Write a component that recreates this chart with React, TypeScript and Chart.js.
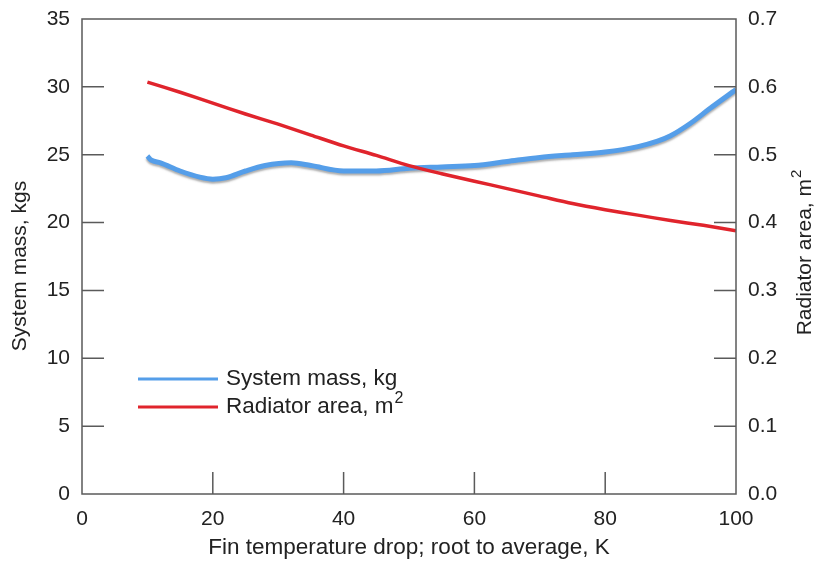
import React, { useEffect, useRef } from "react";
import { Chart, registerables } from "chart.js";

Chart.register(...registerables);

// Fin temperature drop (K) and values
const massX = [10, 10.6, 12, 15, 18, 20, 22, 25, 28, 32, 35, 40, 45, 50, 55, 60, 65, 70, 75, 80, 85, 88, 90, 93, 96, 100];
const massY = [24.9, 24.6, 24.4, 23.8, 23.35, 23.2, 23.3, 23.8, 24.2, 24.4, 24.2, 23.8, 23.8, 24.0, 24.1, 24.2, 24.5, 24.8, 25.0, 25.2, 25.6, 26.0, 26.4, 27.3, 28.4, 29.8];
const areaX = [10, 15, 20, 25, 30, 35, 40, 45, 50, 55, 60, 65, 70, 75, 80, 85, 90, 95, 100];
const areaY = [0.607, 0.592, 0.576, 0.560, 0.545, 0.529, 0.513, 0.499, 0.484, 0.472, 0.461, 0.450, 0.439, 0.428, 0.419, 0.411, 0.403, 0.396, 0.388];

const xTitle = "Fin temperature drop; root to average, K";
const yTitle = "System mass, kgs";
const y1Title = "Radiator area, m";
const seriesLabels = ["System mass, kg", "Radiator area, m"];

const FONT = "Arial, 'Liberation Sans', sans-serif";
const TEXT = "#222222";
const AXIS = "#5a5a5a";
const BLUE = "#559ee9";
const RED = "#e0242c";

export default function App() {
  const ref = useRef<HTMLCanvasElement | null>(null);

  useEffect(() => {
    document.body.style.margin = "0";
    const canvas = ref.current!;

    const framePlugin = {
      id: "frame",
      beforeDatasetDraw(chart: any, args: any) {
        if (args.index === 1) {
          const ctx = chart.ctx;
          ctx.save();
          ctx.shadowColor = "rgba(120,120,120,0.6)";
          ctx.shadowOffsetY = 2;
          ctx.shadowBlur = 2;
        }
      },
      afterDatasetDraw(chart: any, args: any) {
        if (args.index === 1) chart.ctx.restore();
      },
      afterDraw(chart: any) {
        const ctx = chart.ctx;
        const a = chart.chartArea;
        const xs = chart.scales.x;
        const ys = chart.scales.y;
        const y1s = chart.scales.y1;
        ctx.save();
        ctx.strokeStyle = AXIS;
        ctx.lineWidth = 1.5;
        ctx.strokeRect(a.left, a.top, a.right - a.left, a.bottom - a.top);
        const tl = 22;
        ctx.beginPath();
        xs.ticks.forEach((t: any) => {
          if (t.value <= xs.min || t.value >= xs.max) return;
          const p = xs.getPixelForValue(t.value);
          ctx.moveTo(p, a.bottom);
          ctx.lineTo(p, a.bottom - tl);
        });
        ys.ticks.forEach((t: any) => {
          if (t.value <= ys.min || t.value >= ys.max) return;
          const p = ys.getPixelForValue(t.value);
          ctx.moveTo(a.left, p);
          ctx.lineTo(a.left + tl, p);
        });
        y1s.ticks.forEach((t: any) => {
          if (t.value <= y1s.min + 1e-9 || t.value >= y1s.max - 1e-9) return;
          const p = y1s.getPixelForValue(t.value);
          ctx.moveTo(a.right, p);
          ctx.lineTo(a.right - tl, p);
        });
        ctx.stroke();

        // axis titles
        ctx.fillStyle = TEXT;
        ctx.font = `22.5px ${FONT}`;
        ctx.textAlign = "center";
        ctx.textBaseline = "middle";
        ctx.fillText(xTitle, 409, 548);

        ctx.font = `21px ${FONT}`;
        ctx.save();
        ctx.translate(20, 266);
        ctx.rotate(-Math.PI / 2);
        ctx.fillText(yTitle, 0, 0);
        ctx.restore();

        ctx.save();
        ctx.translate(805, 253);
        ctx.rotate(-Math.PI / 2);
        ctx.font = `21px ${FONT}`;
        const w1 = ctx.measureText(y1Title).width;
        ctx.font = `15px ${FONT}`;
        const w2 = ctx.measureText("2").width;
        const total = w1 + w2;
        ctx.textAlign = "left";
        ctx.font = `21px ${FONT}`;
        ctx.fillText(y1Title, -total / 2, 0);
        ctx.font = `15px ${FONT}`;
        ctx.fillText("2", -total / 2 + w1 + 1, -8);
        ctx.restore();

        // legend
        const colors = [BLUE, RED];
        const ly = [379, 407];
        ctx.lineWidth = 3;
        ctx.textAlign = "left";
        for (let i = 0; i < 2; i++) {
          ctx.strokeStyle = colors[i];
          ctx.beginPath();
          ctx.moveTo(138, ly[i]);
          ctx.lineTo(218, ly[i]);
          ctx.stroke();
          ctx.fillStyle = TEXT;
          ctx.font = `22.5px ${FONT}`;
          ctx.fillText(seriesLabels[i], 226, ly[i]);
          if (i === 1) {
            const w = ctx.measureText(seriesLabels[i]).width;
            ctx.font = `16px ${FONT}`;
            ctx.fillText("2", 226 + w + 1, ly[i] - 8);
          }
        }
        ctx.restore();
      },
    };

    const tickFont = { size: 21, family: FONT };
    const noPadV = (s: any, w: number) => {
      s.width = w;
      s.paddingTop = 0;
      s.paddingBottom = 0;
    };

    const chart = new Chart(canvas, {
      type: "line",
      data: {
        datasets: [
          {
            label: seriesLabels[1],
            data: areaX.map((x, i) => ({ x, y: areaY[i] })),
            yAxisID: "y1",
            borderColor: RED,
            borderWidth: 3.5,
            pointRadius: 0,
            tension: 0.3,
            order: 1,
          },
          {
            label: seriesLabels[0],
            data: massX.map((x, i) => ({ x, y: massY[i] })),
            yAxisID: "y",
            borderColor: BLUE,
            borderWidth: 5,
            pointRadius: 0,
            cubicInterpolationMode: "monotone",
            order: 2,
          },
        ],
      },
      options: {
        responsive: false,
        animation: false,
        layout: { padding: { top: 19, left: 0, right: 0, bottom: 0 } },
        plugins: { legend: { display: false }, tooltip: { enabled: false } },
        scales: {
          x: {
            type: "linear",
            min: 0,
            max: 100,
            ticks: { stepSize: 20, color: TEXT, font: tickFont, padding: 13, maxRotation: 0 },
            grid: { display: false, drawTicks: false },
            border: { display: false },
            afterFit: (s: any) => {
              s.height = 67;
              s.paddingLeft = 0;
              s.paddingRight = 0;
            },
          },
          y: {
            position: "left",
            min: 0,
            max: 35,
            ticks: { stepSize: 5, color: TEXT, font: tickFont, padding: 12 },
            grid: { display: false, drawTicks: false },
            border: { display: false },
            afterFit: (s: any) => noPadV(s, 82),
          },
          y1: {
            position: "right",
            min: 0,
            max: 0.7,
            ticks: {
              stepSize: 0.1,
              color: TEXT,
              font: tickFont,
              padding: 12,
              callback: (v: any) => Number(v).toFixed(1),
            },
            grid: { display: false, drawTicks: false },
            border: { display: false },
            afterFit: (s: any) => noPadV(s, 81),
          },
        },
      },
      plugins: [framePlugin],
    });
    return () => chart.destroy();
  }, []);

  return (
    <div style={{ width: 817, height: 561, background: "#fff" }}>
      <canvas ref={ref} width={817} height={561} />
    </div>
  );
}
